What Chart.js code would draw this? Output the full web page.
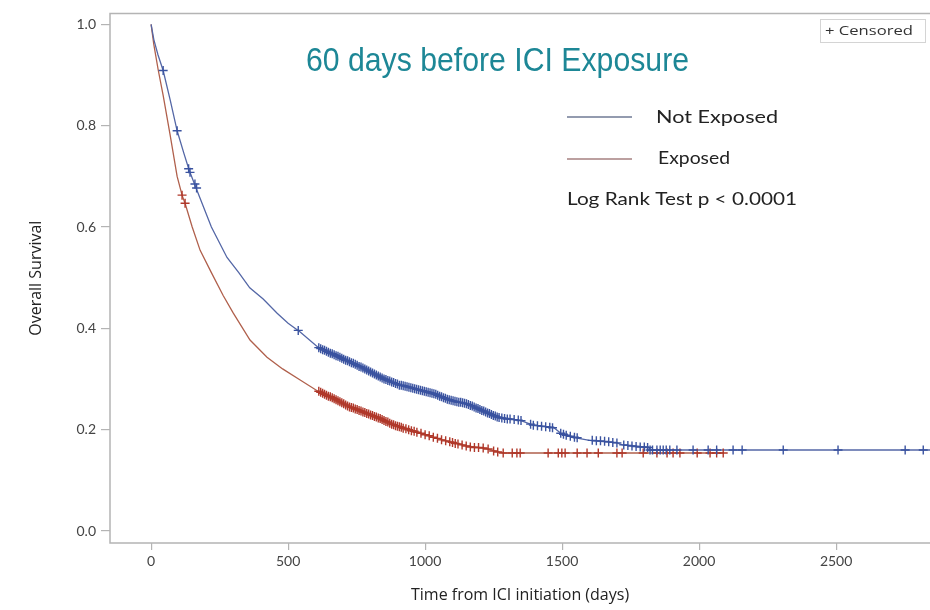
<!DOCTYPE html>
<html>
<head>
<meta charset="utf-8">
<script src="https://cdn.jsdelivr.net/npm/chart.js@4.4.1/dist/chart.umd.min.js"></script>
<style>
  html, body { margin: 0; padding: 0; background: #fff; overflow: hidden; width: 930px; height: 610px; }
  canvas { display: block; }
</style>
</head>
<body>
<canvas id="km" width="936" height="610"></canvas>
<script>
"use strict";
// survival curve points (days, survival)
const notExpDays = [0, 10, 25, 44, 70, 95, 120, 139, 164, 220, 277, 320, 360, 409, 460, 500, 544, 609, 700, 788, 850, 909, 970, 1029, 1091, 1153, 1200, 1263, 1350, 1394, 1470, 1495, 1560, 1600, 1700, 1720, 1815, 1825, 2850];
const notExpSurv = [1.0, 0.97, 0.94, 0.909, 0.85, 0.79, 0.745, 0.712, 0.677, 0.60, 0.54, 0.51, 0.48, 0.458, 0.43, 0.41, 0.393, 0.363, 0.34, 0.318, 0.30, 0.288, 0.28, 0.272, 0.258, 0.251, 0.24, 0.225, 0.218, 0.209, 0.204, 0.193, 0.183, 0.179, 0.174, 0.17, 0.165, 0.16, 0.16];

const expDays = [0, 10, 26, 44, 70, 95, 113, 125, 150, 179, 220, 263, 300, 361, 423, 480, 544, 609, 670, 726, 790, 847, 910, 971, 1030, 1091, 1150, 1212, 1285, 2090];
const expSurv = [1.0, 0.96, 0.91, 0.86, 0.78, 0.70, 0.663, 0.645, 0.60, 0.554, 0.51, 0.465, 0.43, 0.377, 0.343, 0.32, 0.298, 0.276, 0.26, 0.245, 0.232, 0.219, 0.205, 0.195, 0.185, 0.176, 0.168, 0.164, 0.154, 0.154];

// censored observations (days, survival)
const notExpCensDays = [44, 95, 137, 142, 160, 166, 537,
  612, 619, 626, 633, 640, 647, 654, 661, 668, 675, 682, 689, 696, 703, 710, 717, 724, 731, 738, 745, 752, 759, 766, 773,
  780, 787, 794, 801, 808, 815, 822, 829, 836, 843, 850, 857, 864, 871, 878, 885, 892, 899, 906, 913, 920, 927, 934, 941,
  948, 955, 962, 969, 976, 983, 990, 997, 1004, 1011, 1018, 1025, 1032, 1039, 1046, 1053, 1060, 1067, 1074, 1081, 1088,
  1095, 1102, 1109, 1116, 1123, 1130, 1137, 1144, 1151, 1158, 1165, 1172, 1179, 1186, 1193, 1200, 1207, 1214, 1221, 1228,
  1235, 1242, 1249, 1256, 1263, 1270, 1280, 1290,
  1300, 1310, 1325, 1340, 1350, 1385, 1395, 1410, 1425, 1440, 1455, 1465, 1495, 1505, 1515, 1530, 1545, 1555, 1610, 1625,
  1640, 1655, 1670, 1685, 1700, 1725, 1740, 1755, 1770, 1785, 1800, 1812, 1821, 1830, 1846, 1858, 1869, 1880, 1893, 1919,
  1978, 2033, 2064, 2124, 2157, 2307, 2507, 2752, 2818];
const notExpCensSurv = [0.909, 0.79, 0.715, 0.708, 0.685, 0.677, 0.396,
  0.362, 0.360, 0.358, 0.357, 0.355, 0.353, 0.351, 0.350, 0.348, 0.346, 0.345, 0.343, 0.341, 0.339, 0.337, 0.336, 0.334, 0.332, 0.331, 0.329, 0.327, 0.325, 0.324, 0.322,
  0.320, 0.318, 0.316, 0.314, 0.312, 0.310, 0.308, 0.306, 0.304, 0.302, 0.300, 0.299, 0.297, 0.296, 0.294, 0.293, 0.291, 0.290, 0.288, 0.288, 0.287, 0.286, 0.285, 0.284,
  0.283, 0.282, 0.281, 0.280, 0.279, 0.278, 0.277, 0.276, 0.275, 0.274, 0.273, 0.272, 0.271, 0.270, 0.268, 0.266, 0.265, 0.263, 0.262, 0.260, 0.259,
  0.258, 0.257, 0.256, 0.255, 0.254, 0.254, 0.253, 0.252, 0.251, 0.250, 0.248, 0.247, 0.245, 0.243, 0.242, 0.240, 0.238, 0.237, 0.235, 0.233,
  0.232, 0.230, 0.228, 0.227, 0.225, 0.224, 0.223, 0.222,
  0.221, 0.221, 0.220, 0.219, 0.218, 0.211, 0.209, 0.208, 0.207, 0.206, 0.205, 0.204, 0.193, 0.191, 0.189, 0.187, 0.185, 0.184, 0.179, 0.178,
  0.178, 0.177, 0.176, 0.175, 0.174, 0.170, 0.169, 0.168, 0.167, 0.166, 0.166, 0.165, 0.16, 0.16, 0.16, 0.16, 0.16, 0.16, 0.16, 0.16,
  0.16, 0.16, 0.16, 0.16, 0.16, 0.16, 0.16, 0.16, 0.16];

const expCensDays = [113, 124,
  612, 619, 626, 633, 640, 647, 654, 661, 668, 675, 682, 689, 696, 703, 710, 717, 724, 731, 738, 745, 752, 759, 766, 773,
  780, 787, 794, 801, 808, 815, 822, 829, 836, 843, 850, 857, 864, 871, 878, 885, 892, 899, 906, 913, 920, 930, 940, 950,
  960, 970, 985, 1000, 1015, 1030, 1045, 1060, 1075, 1090, 1100, 1110, 1120, 1135, 1150, 1165, 1180, 1195, 1212, 1230,
  1250, 1265, 1285, 1318, 1335, 1347, 1449, 1486, 1499, 1511, 1555, 1591, 1632, 1700, 1719, 1796, 1846, 1883, 1905, 1930,
  1993, 2040, 2064, 2088];
const expCensSurv = [0.663, 0.647,
  0.276, 0.274, 0.272, 0.270, 0.268, 0.266, 0.265, 0.263, 0.261, 0.259, 0.257, 0.255, 0.253, 0.251, 0.249, 0.247, 0.245, 0.244, 0.243, 0.241, 0.240, 0.238, 0.237, 0.235,
  0.234, 0.232, 0.231, 0.229, 0.228, 0.226, 0.225, 0.223, 0.222, 0.220, 0.218, 0.216, 0.215, 0.213, 0.211, 0.210, 0.208, 0.207, 0.206, 0.205, 0.203, 0.202, 0.200, 0.198,
  0.197, 0.195, 0.193, 0.190, 0.188, 0.185, 0.183, 0.180, 0.178, 0.176, 0.175, 0.173, 0.172, 0.170, 0.168, 0.166, 0.165, 0.165, 0.164, 0.162,
  0.158, 0.156, 0.154, 0.154, 0.154, 0.154, 0.154, 0.154, 0.154, 0.154, 0.154, 0.154, 0.154, 0.154, 0.154, 0.154, 0.154, 0.154, 0.154, 0.154,
  0.154, 0.154, 0.154, 0.154];

const xTicks = [0, 500, 1000, 1500, 2000, 2500];
const yTicks = [0.0, 0.2, 0.4, 0.6, 0.8, 1.0];

const toPoints = function (xs, ys) {
  return xs.map(function (x, i) { return { x: x, y: ys[i] }; });
};

// text fitted to a width by squeezing horizontally
const fitText = function (ctx, text, x, y, width, font, color) {
  ctx.save();
  ctx.font = font;
  ctx.fillStyle = color;
  ctx.textBaseline = "middle";
  const w = ctx.measureText(text).width;
  ctx.translate(x, y);
  ctx.scale(width / w, 1);
  ctx.fillText(text, 0, 0);
  ctx.restore();
};

// frame, title, legend and note
const decorPlugin = {
  id: "decor",
  beforeDatasetsDraw(chart) {
    const { ctx, chartArea } = chart;
    ctx.save();
    ctx.strokeStyle = "#b4b4b4";
    ctx.lineWidth = 1.5;
    ctx.beginPath();
    ctx.moveTo(chartArea.right + 2, chartArea.top);
    ctx.lineTo(chartArea.left, chartArea.top);
    ctx.lineTo(chartArea.left, chartArea.bottom);
    ctx.lineTo(chartArea.right + 2, chartArea.bottom);
    ctx.stroke();
    ctx.restore();
  },
  afterDraw(chart) {
    const ctx = chart.ctx;
    fitText(ctx, "60 days before ICI Exposure", 306, 62, 383, "34px 'Liberation Sans'", "#1d8796");

    ctx.save();
    ctx.lineWidth = 1.6;
    ctx.strokeStyle = "#6f7a94";
    ctx.beginPath(); ctx.moveTo(567, 117); ctx.lineTo(632, 117); ctx.stroke();
    ctx.strokeStyle = "#bca0a0";
    ctx.lineWidth = 2;
    ctx.beginPath(); ctx.moveTo(567, 159); ctx.lineTo(632, 159); ctx.stroke();
    ctx.restore();
    fitText(ctx, "Not Exposed", 656, 117, 122, "18px Lato", "#222");
    fitText(ctx, "Exposed", 658, 158, 72, "18px Lato", "#222");
    fitText(ctx, "Log Rank Test p < 0.0001", 567, 200, 230, "17px Lato", "#222");

    // censored key box
    ctx.save();
    ctx.strokeStyle = "#d4d4d4";
    ctx.lineWidth = 1;
    ctx.strokeRect(820.5, 19.5, 105, 23);
    ctx.restore();
    fitText(ctx, "+ Censored", 825, 31, 88, "13px 'Open Sans'", "#333");
  }
};

const chart = new Chart(document.getElementById("km"), {
  type: "scatter",
  data: {
    datasets: [
      {
        label: "Not Exposed",
        data: toPoints(notExpDays, notExpSurv),
        showLine: true,
        borderColor: "#5467a6",
        borderWidth: 1.3,
        pointRadius: 0,
        order: 2
      },
      {
        label: "Exposed",
        data: toPoints(expDays, expSurv),
        showLine: true,
        borderColor: "#b0604c",
        borderWidth: 1.3,
        pointRadius: 0,
        order: 3
      },
      {
        label: "Not Exposed censored",
        data: toPoints(notExpCensDays, notExpCensSurv),
        showLine: false,
        pointStyle: "cross",
        pointRadius: 4.5,
        borderColor: "#3a53a0",
        borderWidth: 1.4,
        order: 0
      },
      {
        label: "Exposed censored",
        data: toPoints(expCensDays, expCensSurv),
        showLine: false,
        pointStyle: "cross",
        pointRadius: 4.5,
        borderColor: "#b0382a",
        borderWidth: 1.4,
        order: 1
      }
    ]
  },
  options: {
    responsive: false,
    animation: false,
    layout: { padding: { top: 12, right: 0, left: 0, bottom: 0 } },
    plugins: {
      legend: { display: false },
      tooltip: { enabled: false }
    },
    scales: {
      x: {
        type: "linear",
        min: -150,
        max: 2843,
        afterFit: function (scale) { scale.height = 67; },
        afterBuildTicks: function (scale) {
          scale.ticks = xTicks.map(function (v) { return { value: v }; });
        },
        grid: { drawOnChartArea: false, drawTicks: true, tickLength: 7, color: "#b4b4b4", lineWidth: 1.2 },
        border: { display: false },
        ticks: {
          padding: 3,
          color: "#444",
          font: { family: "Lato", size: 14 },
          maxRotation: 0,
          callback: function (v) { return String(v); }
        },
        title: {
          display: true,
          text: "Time from ICI initiation (days)",
          color: "#222",
          font: { family: "Open Sans", size: 16 },
          padding: { top: 0, bottom: 5 }
        }
      },
      y: {
        type: "linear",
        min: -0.0236,
        max: 1.0217,
        afterFit: function (scale) { scale.width = 110; },
        afterBuildTicks: function (scale) {
          scale.ticks = yTicks.map(function (v) { return { value: v }; });
        },
        grid: { drawOnChartArea: false, drawTicks: true, tickLength: 9, color: "#b4b4b4", lineWidth: 1.2 },
        border: { display: false },
        ticks: {
          padding: 5,
          color: "#444",
          font: { family: "Lato", size: 14 },
          callback: function (v) { return Number(v).toFixed(1); }
        },
        title: {
          display: true,
          text: "Overall Survival",
          color: "#222",
          font: { family: "Open Sans", size: 16 },
          padding: { top: 27, bottom: 0 }
        }
      }
    }
  },
  plugins: [decorPlugin]
});
</script>
</body>
</html>
